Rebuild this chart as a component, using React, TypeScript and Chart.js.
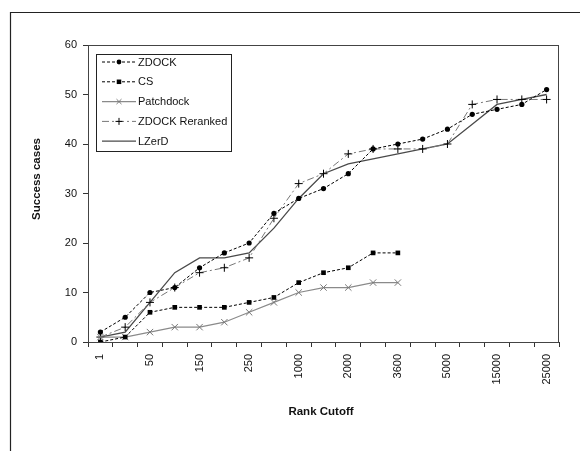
import React, { useEffect, useRef } from "react";
import { Chart, registerables } from "chart.js";

Chart.register(...registerables);

const categories = ["1", "", "50", "", "150", "", "250", "", "1000", "", "2000", "", "3600", "", "5000", "", "15000", "", "25000"];
const zdock = [2, 5, 10, 11, 15, 18, 20, 26, 29, 31, 34, 39, 40, 41, 43, 46, 47, 48, 51];
const cs = [0, 1, 6, 7, 7, 7, 8, 9, 12, 14, 15, 18, 18, null, null, null, null, null, null];
const patchdock = [1, 1, 2, 3, 3, 4, 6, 8, 10, 11, 11, 12, 12, null, null, null, null, null, null];
const zdockReranked = [1, 3, 8, 11, 14, 15, 17, 25, 32, 34, 38, 39, 39, 39, 40, 48, 49, 49, 49];
const lzerd = [1, 2, 8, 14, 17, 17, 18, 23, 29, 34, 36, 37, 38, 39, 40, 44, 48, 49, 50];
const yTicks = [0, 10, 20, 30, 40, 50, 60];

const FONT = "Arial, 'Liberation Sans', sans-serif";

type Marker = "circle" | "rect" | "crossRot" | "cross" | "none";

function drawMarker(ctx: CanvasRenderingContext2D, kind: Marker, x: number, y: number, r: number, color: string) {
  ctx.save();
  ctx.setLineDash([]);
  ctx.fillStyle = color;
  ctx.strokeStyle = color;
  ctx.lineWidth = 1;
  ctx.beginPath();
  if (kind === "circle") {
    ctx.arc(x, y, r, 0, Math.PI * 2);
    ctx.fill();
  } else if (kind === "rect") {
    const s = r * Math.SQRT1_2;
    ctx.rect(x - s, y - s, 2 * s, 2 * s);
    ctx.fill();
  } else if (kind === "crossRot") {
    const s = r * Math.SQRT1_2;
    ctx.moveTo(x - s, y - s);
    ctx.lineTo(x + s, y + s);
    ctx.moveTo(x - s, y + s);
    ctx.lineTo(x + s, y - s);
    ctx.stroke();
  } else if (kind === "cross") {
    ctx.moveTo(x - r, y);
    ctx.lineTo(x + r, y);
    ctx.moveTo(x, y - r);
    ctx.lineTo(x, y + r);
    ctx.stroke();
  }
  ctx.restore();
}

const legendMeta: { marker: Marker; r: number; markerColor: string }[] = [
  { marker: "circle", r: 2.4, markerColor: "#000" },
  { marker: "rect", r: 3.2, markerColor: "#000" },
  { marker: "crossRot", r: 3.5, markerColor: "#777" },
  { marker: "cross", r: 3.5, markerColor: "#000" },
  { marker: "none", r: 0, markerColor: "#000" },
];

const decorPlugin = {
  id: "decor",
  beforeDraw(chart: any) {
    const ctx = chart.ctx as CanvasRenderingContext2D;
    ctx.save();
    ctx.fillStyle = "#fff";
    ctx.fillRect(0, 0, chart.width, chart.height);
    ctx.strokeStyle = "#222";
    ctx.lineWidth = 1.2;
    ctx.beginPath();
    ctx.moveTo(10.5, chart.height + 5);
    ctx.lineTo(10.5, 12.5);
    ctx.lineTo(chart.width + 5, 12.5);
    ctx.stroke();
    ctx.restore();
  },
  afterDraw(chart: any) {
    const ctx = chart.ctx as CanvasRenderingContext2D;
    const a = chart.chartArea;
    ctx.save();
    // plot box
    ctx.strokeStyle = "#444";
    ctx.lineWidth = 1;
    ctx.strokeRect(Math.round(a.left) + 0.5, Math.round(a.top) + 0.5, Math.round(a.right - a.left) - 1, Math.round(a.bottom - a.top));

    // axis titles
    ctx.fillStyle = "#111";
    ctx.font = `bold 11.5px ${FONT}`;
    ctx.textAlign = "center";
    ctx.textBaseline = "alphabetic";
    ctx.fillText("Rank Cutoff", 321, 415);
    ctx.save();
    ctx.translate(37, 179);
    ctx.rotate(-Math.PI / 2);
    ctx.textBaseline = "middle";
    ctx.fillText("Success cases", 0, 0);
    ctx.restore();

    // legend
    const lx = 96.5, ly = 54.5, lw = 135, lh = 97;
    ctx.fillStyle = "#fff";
    ctx.fillRect(lx, ly, lw, lh);
    ctx.strokeStyle = "#222";
    ctx.lineWidth = 1;
    ctx.strokeRect(lx, ly, lw, lh);
    chart.data.datasets.forEach((ds: any, i: number) => {
      const cy = 62 + i * 19.8;
      ctx.save();
      ctx.strokeStyle = ds.borderColor;
      ctx.lineWidth = ds.borderWidth;
      ctx.setLineDash(ds.borderDash || []);
      ctx.beginPath();
      ctx.moveTo(102, cy);
      ctx.lineTo(136, cy);
      ctx.stroke();
      ctx.restore();
      const m = legendMeta[i];
      if (m.marker !== "none") drawMarker(ctx, m.marker, 119, cy, m.r, m.markerColor);
      ctx.fillStyle = "#111";
      ctx.font = `11px ${FONT}`;
      ctx.textAlign = "left";
      ctx.textBaseline = "middle";
      ctx.fillText(ds.label, 138, cy + 0.5);
    });
    ctx.restore();
  },
};

export default function App() {
  const ref = useRef<HTMLCanvasElement | null>(null);
  useEffect(() => {
    if (!ref.current) return;
    const chart = new Chart(ref.current, {
      type: "line",
      data: {
        labels: categories,
        datasets: [
          {
            label: "ZDOCK",
            data: zdock,
            borderColor: "#000",
            borderWidth: 1,
            borderDash: [3, 2],
            pointStyle: "circle",
            pointRadius: 2.6,
            pointBackgroundColor: "#000",
            pointBorderColor: "#000",
            pointBorderWidth: 0,
          },
          {
            label: "CS",
            data: cs,
            borderColor: "#000",
            borderWidth: 1,
            borderDash: [3, 2],
            pointStyle: "rect",
            pointRadius: 3.3,
            pointBackgroundColor: "#000",
            pointBorderColor: "#000",
            pointBorderWidth: 0,
          },
          {
            label: "Patchdock",
            data: patchdock,
            borderColor: "#8a8a8a",
            borderWidth: 1.2,
            pointStyle: "crossRot",
            pointRadius: 4.5,
            pointBackgroundColor: "#777",
            pointBorderColor: "#777",
            pointBorderWidth: 1,
          },
          {
            label: "ZDOCK Reranked",
            data: zdockReranked,
            borderColor: "#777",
            borderWidth: 1,
            borderDash: [7, 3, 2, 3],
            pointStyle: "cross",
            pointRadius: 4,
            pointBackgroundColor: "#000",
            pointBorderColor: "#000",
            pointBorderWidth: 1,
          },
          {
            label: "LZerD",
            data: lzerd,
            borderColor: "#4a4a4a",
            borderWidth: 1.3,
            pointRadius: 0,
          },
        ],
      },
      options: {
        animation: false,
        responsive: false,
        devicePixelRatio: 1,
        spanGaps: false,
        layout: { padding: { top: 45, right: 21, left: 0, bottom: 0 } },
        plugins: { legend: { display: false }, tooltip: { enabled: false } },
        elements: { line: { tension: 0 } },
        scales: {
          x: {
            type: "category",
            offset: true,
            grid: { display: true, drawOnChartArea: false, drawTicks: true, tickLength: 5, color: "#333", offset: true },
            border: { display: true, color: "#333", width: 1 },
            ticks: {
              autoSkip: false,
              minRotation: 90,
              maxRotation: 90,
              padding: 7,
              color: "#111",
              font: { family: FONT, size: 11 },
            },
            afterFit: (scale: any) => {
              scale.height = 109;
            },
          },
          y: {
            min: 0,
            max: 60,
            afterBuildTicks: (scale: any) => {
              scale.ticks = yTicks.map((v) => ({ value: v }));
            },
            grid: { display: true, drawOnChartArea: false, drawTicks: true, tickLength: 5, color: "#333" },
            border: { display: true, color: "#333", width: 1 },
            ticks: {
              padding: 6,
              color: "#111",
              font: { family: FONT, size: 11 },
            },
            afterFit: (scale: any) => {
              scale.width = 88;
            },
          },
        },
      },
      plugins: [decorPlugin],
    } as any);
    return () => chart.destroy();
  }, []);
  return (
    <div style={{ position: "absolute", left: 0, top: 0, width: 580, height: 451, overflow: "hidden", background: "#fff" }}>
      <canvas ref={ref} width={580} height={451} style={{ display: "block" }} />
    </div>
  );
}
